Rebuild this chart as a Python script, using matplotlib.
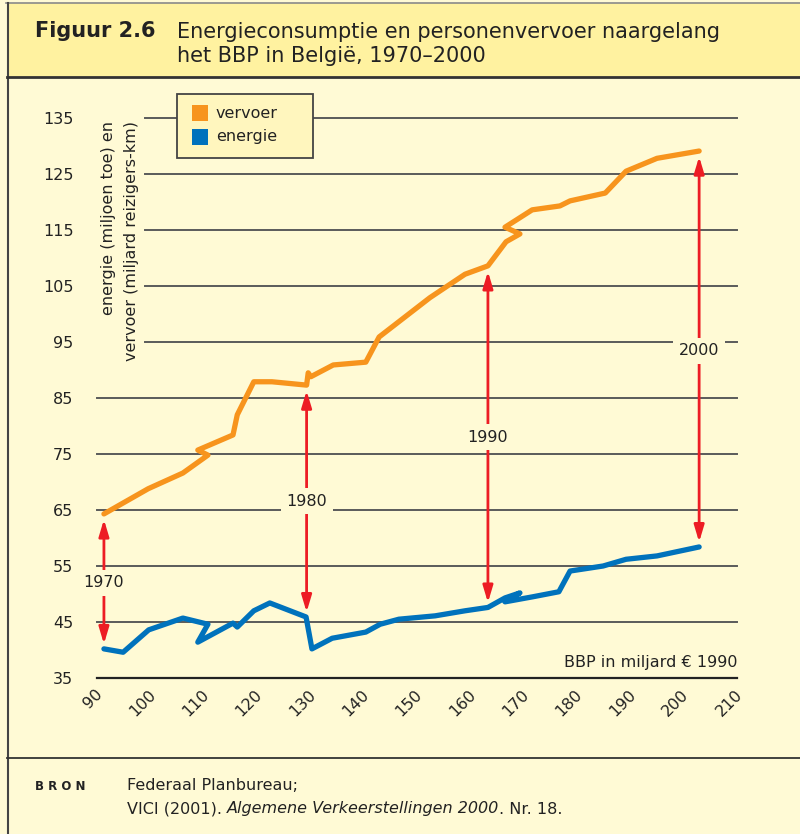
import matplotlib
matplotlib.use("Agg")
import matplotlib.pyplot as plt
from matplotlib.patches import Rectangle
from matplotlib.lines import Line2D
from matplotlib.transforms import ScaledTranslation

# Data (BBP in miljard euro 1990)
vervoer_bbp = [91.3, 99.6, 106.1, 110.8, 108.9, 115.5, 116.3, 119.4, 122.8, 129.3, 129.6, 130.1,
               134.3, 140.4, 142.9, 152.4, 159.0, 163.3, 166.7, 169.3, 166.5, 171.6, 176.8, 178.7,
               185.3, 189.2, 195.0, 202.9]
vervoer = [64.3, 68.8, 71.6, 74.8, 75.7, 78.4, 82.0, 87.9, 87.9, 87.3, 89.5, 88.8,
           90.9, 91.4, 95.9, 102.9, 107.1, 108.6, 112.9, 114.3, 115.5, 118.6, 119.3, 120.2,
           121.6, 125.5, 127.8, 129.1]

energie_bbp = [91.3, 94.9, 99.7, 106.1, 110.8, 108.9, 115.5, 116.3, 119.4, 122.4, 129.2, 130.3,
               134.1, 140.4, 143.1, 146.6, 153.4, 159.0, 163.3, 166.5, 169.3, 166.5, 171.7, 176.6,
               178.7, 184.9, 189.2, 195.0, 202.9]
energie = [40.2, 39.6, 43.6, 45.7, 44.6, 41.4, 44.8, 44.1, 47.0, 48.4, 45.9, 40.2,
           42.1, 43.2, 44.6, 45.5, 46.1, 47.0, 47.6, 49.3, 50.2, 48.6, 49.5, 50.4,
           54.1, 55.0, 56.2, 56.8, 58.4]

# year markers (double arrows)
jaren = ["1970", "1980", "1990", "2000"]
jaar_bbp = [91.3, 129.3, 163.3, 202.9]
jaar_boven = [64.3, 87.3, 108.6, 129.1]
jaar_onder = [40.2, 45.9, 47.6, 58.4]
jaar_label_y = [52.0, 66.6, 78.0, 93.4]

xticks = list(range(90, 211, 10))
yticks = list(range(35, 136, 10))

# colours
bg = "#FFFAD5"
band = "#FFF2A0"
orange = "#F7941D"
blue = "#0072BC"
red = "#ED1C24"
grid = "#5A5A5A"
txt = "#222222"

W, H = 800, 834
fig = plt.figure(figsize=(W / 100, H / 100), dpi=100, facecolor=bg)


def fx(px):
    return px / W


def fy(py):
    return 1 - py / H


# title band and borders
fig.patches.append(Rectangle((fx(8), fy(77)), 1, fy(3) - fy(77), transform=fig.transFigure,
                             facecolor=band, edgecolor="none", zorder=0))
fig.add_artist(Line2D([fx(6), 1], [fy(3), fy(3)], color="#8a8a8a", lw=1.2))
fig.add_artist(Line2D([fx(7.5), fx(7.5)], [fy(3), 0], color="#444444", lw=1.5))
fig.add_artist(Line2D([fx(7), 1], [fy(77), fy(77)], color="#333333", lw=2.0))
fig.add_artist(Line2D([fx(7), 1], [fy(758), fy(758)], color="#333333", lw=1.3))

fig.text(fx(35), fy(31), "Figuur 2.6", fontsize=15, fontweight="bold", color=txt, va="center")
fig.text(fx(177), fy(44), "Energieconsumptie en personenvervoer naargelang\nhet BBP in België, 1970–2000",
         fontsize=15, color=txt, va="center", linespacing=1.2)

# footer
fig.text(fx(35), fy(786), "B R O N", fontsize=8.5, fontweight="bold", color=txt, va="center")
fig.text(fx(127), fy(786), "Federaal Planbureau;", fontsize=11.5, color=txt, va="center")
pieces = [("VICI (2001). ", "normal"), ("Algemene Verkeerstellingen 2000", "italic"), (". Nr. 18.", "normal")]
x0 = fx(127)
renderer = fig.canvas.get_renderer()
for s, st in pieces:
    t = fig.text(x0, fy(809), s, fontsize=11.5, color=txt, va="center", style=st)
    bb = t.get_window_extent(renderer=renderer)
    x0 += bb.width / W

# axes
ax = fig.add_axes([fx(97), fy(678), fx(737) - fx(97), fy(118) - fy(678)])
ax.set_facecolor("none")
ax.set_xlim(90, 210)
ax.set_ylim(35, 135)
for s in ax.spines.values():
    s.set_visible(False)

for v in yticks:
    if v == 35:
        ax.plot([90, 210], [v, v], color="#222222", lw=1.6, zorder=1, clip_on=False)
    else:
        x_start = 99 if v >= 95 else 90
        ax.plot([x_start, 210], [v, v], color=grid, lw=1.4, zorder=1, clip_on=False)

ax.set_yticks(yticks)
ax.set_yticklabels([str(v) for v in yticks], fontsize=11.5, color=txt)
ax.set_xticks(xticks)
ax.set_xticklabels([str(v) for v in xticks], fontsize=11.5, color=txt, rotation=45,
                   ha="right", va="center", rotation_mode="anchor")
ax.tick_params(axis="y", length=0, pad=17)
ax.tick_params(axis="x", length=0, pad=10)
shift = ScaledTranslation(3 / 100, 0, fig.dpi_scale_trans)
for lab in ax.get_xticklabels():
    lab.set_transform(lab.get_transform() + shift)

ax.plot(vervoer_bbp, vervoer, color=orange, lw=3.8, solid_joinstyle="round",
        solid_capstyle="round", zorder=3, clip_on=False)
ax.plot(energie_bbp, energie, color=blue, lw=3.8, solid_joinstyle="round",
        solid_capstyle="round", zorder=3, clip_on=False)

for jaar, x, top, bot, ly in zip(jaren, jaar_bbp, jaar_boven, jaar_onder, jaar_label_y):
    ax.annotate("", xy=(x, top), xytext=(x, bot),
                arrowprops=dict(arrowstyle="<|-|>,head_length=0.5,head_width=0.15",
                                color=red, lw=2, mutation_scale=20, shrinkA=3.5, shrinkB=4),
                zorder=4)
    ax.text(x, ly, jaar, fontsize=11.5, color=txt, ha="center", va="center", zorder=5,
            bbox=dict(facecolor=bg, edgecolor="none", pad=4))

ax.text(210, 37.7, "BBP in miljard € 1990", fontsize=11.5, color=txt, ha="right", va="center")

# y label
fig.text(fx(120), fy(121), "energie (miljoen toe) en\nvervoer (miljard reizigers-km)",
         rotation=90, fontsize=11.5, color=txt, ha="center", va="top",
         multialignment="right", linespacing=1.6)

# legend box
fig.patches.append(Rectangle((fx(177), fy(158)), fx(313) - fx(177), fy(94) - fy(158),
                             transform=fig.transFigure, facecolor="#FFF6BE",
                             edgecolor="#444444", lw=1.3, zorder=6))
for py, col, lab in [(113, orange, "vervoer"), (137, blue, "energie")]:
    fig.patches.append(Rectangle((fx(192), fy(py + 8)), fx(16), fx(16) * W / H,
                                 transform=fig.transFigure, facecolor=col,
                                 edgecolor="none", zorder=7))
    fig.text(fx(216), fy(py), lab, fontsize=11.5, color=txt, va="center", zorder=8)

fig.savefig("out.png", dpi=100, facecolor=bg)
